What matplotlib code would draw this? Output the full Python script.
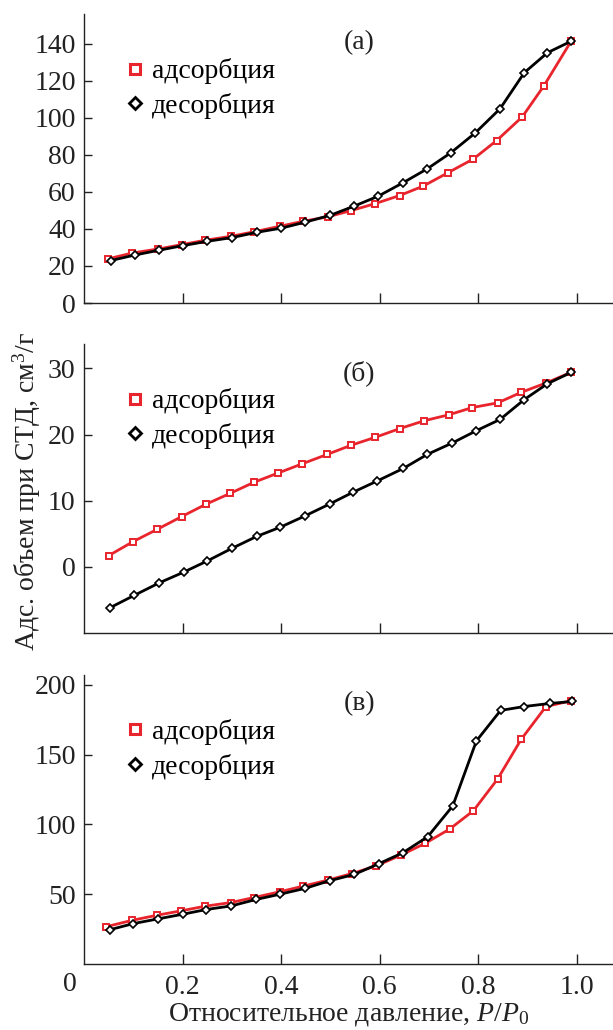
import matplotlib
matplotlib.use("Agg")
import matplotlib.pyplot as plt
from matplotlib.lines import Line2D

plt.rcParams["font.family"] = ["Liberation Serif", "DejaVu Serif"]
plt.rcParams["mathtext.fontset"] = "custom"
plt.rcParams["mathtext.rm"] = "Liberation Serif"
plt.rcParams["mathtext.it"] = "Liberation Serif:italic"

RED = "#e8242c"
INK = "#222222"
FS = 20

# panel (a)
a_ads_x = [0.048, 0.098, 0.151, 0.198, 0.246, 0.298, 0.344, 0.397, 0.444, 0.494,
           0.542, 0.591, 0.640, 0.688, 0.738, 0.790, 0.837, 0.889, 0.933, 0.988]
a_ads_y = [23.8, 27.0, 29.2, 31.5, 33.9, 36.0, 38.4, 41.4, 44.1, 46.5,
           49.9, 53.7, 58.0, 63.1, 70.3, 77.8, 87.7, 100.5, 117.3, 141.3]
a_des_x = [0.054, 0.103, 0.152, 0.201, 0.250, 0.300, 0.351, 0.400, 0.448, 0.500,
           0.548, 0.597, 0.647, 0.696, 0.744, 0.794, 0.844, 0.893, 0.940, 0.988]
a_des_y = [22.9, 25.9, 28.5, 31.0, 33.3, 35.3, 38.2, 40.4, 43.6, 47.4,
           52.3, 57.7, 64.9, 72.4, 81.1, 91.9, 104.9, 124.3, 135.1, 141.3]

# panel (б)
b_ads_x = [0.050, 0.099, 0.149, 0.198, 0.248, 0.296, 0.345, 0.394, 0.443, 0.493,
           0.542, 0.591, 0.640, 0.690, 0.740, 0.788, 0.839, 0.887, 0.937, 0.987]
b_ads_y = [1.7, 3.8, 5.7, 7.6, 9.5, 11.1, 12.8, 14.2, 15.6, 17.0,
           18.4, 19.6, 20.9, 22.1, 23.0, 24.1, 24.8, 26.4, 27.8, 29.4]
b_des_x = [0.052, 0.102, 0.153, 0.202, 0.250, 0.300, 0.350, 0.398, 0.448, 0.498,
           0.546, 0.595, 0.648, 0.696, 0.746, 0.796, 0.844, 0.893, 0.940, 0.988]
b_des_y = [-6.2, -4.3, -2.4, -0.8, 0.9, 2.8, 4.6, 6.0, 7.7, 9.5,
           11.3, 13.0, 14.9, 17.0, 18.7, 20.6, 22.3, 25.3, 27.7, 29.4]

# panel (в)
c_ads_x = [0.044, 0.098, 0.148, 0.196, 0.246, 0.298, 0.345, 0.397, 0.444, 0.494,
           0.544, 0.593, 0.643, 0.692, 0.742, 0.790, 0.839, 0.887, 0.937, 0.988]
c_ads_y = [26.6, 31.3, 34.9, 38.0, 41.4, 44.0, 47.6, 51.7, 55.7, 60.0,
           64.8, 70.3, 78.0, 86.4, 96.7, 109.8, 132.5, 161.0, 184.4, 188.5]
c_des_x = [0.053, 0.100, 0.150, 0.200, 0.248, 0.299, 0.349, 0.398, 0.448, 0.498,
           0.548, 0.598, 0.647, 0.697, 0.748, 0.796, 0.845, 0.893, 0.945, 0.990]
c_des_y = [24.6, 28.9, 32.3, 35.6, 39.0, 41.6, 46.2, 50.0, 54.1, 59.6,
           64.1, 71.8, 79.7, 91.1, 113.2, 159.8, 181.6, 184.4, 186.6, 188.0]

panels = [
    ("(a)", a_ads_x, a_ads_y, a_des_x, a_des_y, (0, 156), [0, 20, 40, 60, 80, 100, 120, 140]),
    ("(б)", b_ads_x, b_ads_y, b_des_x, b_des_y, (-10, 33.7), [0, 10, 20, 30]),
    ("(в)", c_ads_x, c_ads_y, c_des_x, c_des_y, (0, 207), [50, 100, 150, 200]),
]
x_ticks = [0.2, 0.4, 0.6, 0.8, 1.0]
x_tick_labels = ["0.2", "0.4", "0.6", "0.8", "1.0"]
legend_labels = ["адсорбция", "десорбция"]

fig = plt.figure(figsize=(6.13, 10.30), dpi=100)
bottoms = [0.7058, 0.3854, 0.0641]
axes = []
for (label, ax_x, ax_y, dx, dy, ylim, yticks), bottom in zip(panels, bottoms):
    ax = fig.add_axes([0.137, bottom, 0.863, 0.2806])
    ax.plot(ax_x, ax_y, color=RED, lw=2.0, marker="s", ms=5, mfc="white",
            mec=RED, mew=1.4, zorder=3)
    ax.plot(dx, dy, color="black", lw=2.0, marker="D", ms=4.5, mfc="white",
            mec="black", mew=1.2, zorder=4)
    ax.set_xlim(0, 1.073)
    ax.set_ylim(*ylim)
    ax.set_yticks(yticks)
    ax.set_xticks(x_ticks)
    ax.spines["top"].set_visible(False)
    ax.spines["right"].set_visible(False)
    for s in ("left", "bottom"):
        ax.spines[s].set_linewidth(1.0)
        ax.spines[s].set_color(INK)
    ax.tick_params(axis="y", direction="in", length=6, width=1.0, labelsize=FS,
                   pad=6, colors=INK)
    ax.tick_params(axis="x", direction="in", length=7, width=1.0, labelsize=FS,
                   pad=8, colors=INK)
    ax.text(0.52, 0.900, label, transform=ax.transAxes, fontsize=FS,
            ha="center", va="center", color=INK)
    handles = [
        Line2D([], [], ls="none", marker="s", ms=7, mfc="white", mec=RED, mew=2.2),
        Line2D([], [], ls="none", marker="D", ms=6.5, mfc="white", mec="black", mew=2.0),
    ]
    ax.legend(handles, legend_labels, loc="upper left",
              bbox_to_anchor=(0.055, 0.895), frameon=False, fontsize=FS,
              handlelength=0.6, handletextpad=0.3, labelspacing=0.32,
              borderpad=0.0)
    axes.append(ax)

for ax in axes[:2]:
    ax.set_xticklabels([])
axes[2].set_xticklabels(x_tick_labels)
axes[2].set_xlabel("Относительное давление, $P/P_0$", fontsize=FS, labelpad=1,
                   color=INK)
fig.text(0.114, 0.044, "0", fontsize=FS, ha="center", va="center", color=INK)
fig.text(0.044, 0.523, "Адс. объем при СТД, см$^3$/г", fontsize=FS, rotation=90,
         ha="center", va="center", color=INK)

fig.savefig("out.png", dpi=100)
